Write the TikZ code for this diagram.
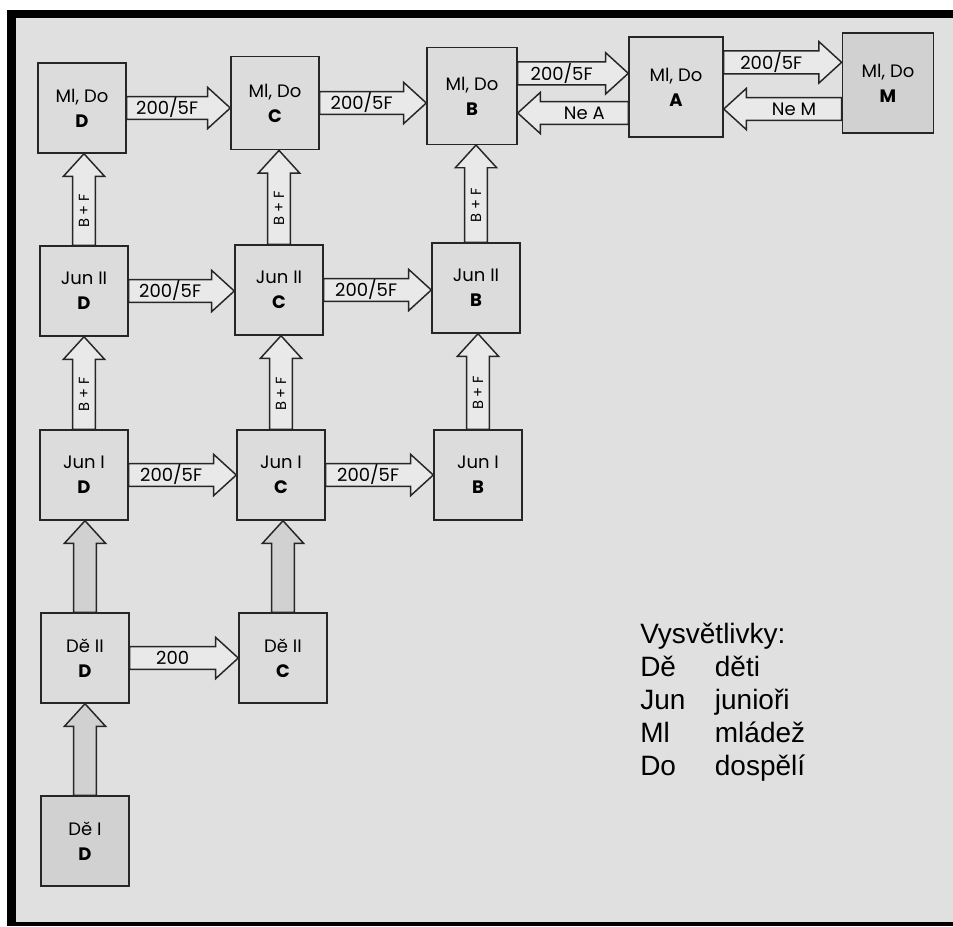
\documentclass[tikz,border=0pt]{standalone}
\usepackage{fontspec}
\setmainfont{Liberation Sans}
\newfontfamily\katfont{Poppins}
\usepackage{tikz}
\usetikzlibrary{arrows.meta,positioning,calc}
\definecolor{pozadi}{RGB}{224,224,224}
\definecolor{vypln}{RGB}{220,220,220}
\definecolor{tmava}{RGB}{209,209,209}
\definecolor{cara}{RGB}{38,38,38}

\begin{document}
\begin{tikzpicture}[x=0.75pt,y=-0.75pt,
  kat/.style={draw=cara,line width=1.1pt,fill=vypln,minimum width=66pt,
    minimum height=67.5pt,inner sep=0pt,align=center,
    font=\katfont\fontsize{13.5}{18.75}\selectfont},
  sipka/.style={draw=cara,line width=1.1pt,fill=pozadi!70!white,line join=miter},
  stin/.style={fill=tmava},
  popis/.style={inner sep=0pt,font=\katfont\fontsize{13.5}{15}\selectfont},
  bf/.style={inner sep=0pt,rotate=90,font=\katfont\fontsize{11}{12}\selectfont}]
  % rozmery sipek
  \def\sw{8.6pt}
  \def\hw{15.5pt}
  \def\hl{17pt}
  \def\vpravo#1#2#3{\draw[sipka] let \p1=(#1), \p2=(#2) in
    (\x1,\y1+\sw) -- (\x2-\hl,\y1+\sw) -- (\x2-\hl,\y1+\hw) -- (\x2,\y1)
    -- (\x2-\hl,\y1-\hw) -- (\x2-\hl,\y1-\sw) -- (\x1,\y1-\sw) -- cycle
    ({(\x1+\x2-\hl)/2},\y1) node[popis] {#3};}
  \def\vlevo#1#2#3{\draw[sipka] let \p1=(#1), \p2=(#2) in
    (\x1,\y1+\sw) -- (\x2+\hl,\y1+\sw) -- (\x2+\hl,\y1+\hw) -- (\x2,\y1)
    -- (\x2+\hl,\y1-\hw) -- (\x2+\hl,\y1-\sw) -- (\x1,\y1-\sw) -- cycle
    ({(\x1+\x2+\hl)/2},\y1) node[popis] {#3};}
  \def\nahoru#1#2#3#4{\draw[sipka,#3] let \p1=(#1), \p2=(#2) in
    (\x1-\sw,\y1) -- (\x1-\sw,\y2-\hl) -- (\x1-\hw,\y2-\hl) -- (\x1,\y2)
    -- (\x1+\hw,\y2-\hl) -- (\x1+\sw,\y2-\hl) -- (\x1+\sw,\y1) -- cycle
    (\x1,{(\y1+\y2-\hl)/2}) node[bf] {#4};}
  % ramecek
  \useasboundingbox (0,0) rectangle (953,926);
  \fill[white] (0,0) rectangle (953,926);
  \fill[black] (7,10) rectangle (953,926);
  \fill[pozadi] (16,18) rectangle (953,922);
  % Ml, Do
  \node[kat] (mlD) at (82,108) {Ml, Do\\\textbf{D}};
  \node[kat,minimum height=70pt] (mlC) at (275,103) {Ml, Do\\\textbf{C}};
  \node[kat,minimum width=67.5pt,minimum height=72.5pt] (mlB) at (472,96) {Ml, Do\\\textbf{B}};
  \node[kat,minimum width=70.5pt,minimum height=75pt] (mlA) at (676,87) {Ml, Do\\\textbf{A}};
  \node[kat,stin,minimum width=68.5pt,minimum height=75pt] (mlM) at (888,83) {Ml, Do\\\textbf{M}};
  % Jun II
  \node[kat] (j2D) at (84,291) {Jun II\\\textbf{D}};
  \node[kat] (j2C) at (279,290) {Jun II\\\textbf{C}};
  \node[kat] (j2B) at (476,288) {Jun II\\\textbf{B}};
  % Jun I
  \node[kat] (j1D) at (84,475) {Jun I\\\textbf{D}};
  \node[kat] (j1C) at (281,475) {Jun I\\\textbf{C}};
  \node[kat] (j1B) at (478,475) {Jun I\\\textbf{B}};
  % Dě II, Dě I
  \node[kat] (d2D) at (85,658) {Dě II\\\textbf{D}};
  \node[kat] (d2C) at (283,658) {Dě II\\\textbf{C}};
  \node[kat,stin] (d1D) at (85,841) {Dě I\\\textbf{D}};
  % prestupy vodorovne
  \vpravo{mlD.east}{mlC.west}{200/5F}
  \vpravo{mlC.east}{mlB.west}{200/5F}
  \vpravo{[yshift=17pt]mlB.east}{mlA.west}{200/5F}
  \vlevo{[yshift=-19.5pt]mlA.west}{mlB.east}{Ne A}
  \vpravo{[yshift=18.5pt]mlA.east}{mlM.west}{200/5F}
  \vlevo{[yshift=-19.5pt]mlM.west}{mlA.east}{Ne M}
  \vpravo{j2D.east}{j2C.west}{200/5F}
  \vpravo{j2C.east}{j2B.west}{200/5F}
  \vpravo{j1D.east}{j1C.west}{200/5F}
  \vpravo{j1C.east}{j1B.west}{200/5F}
  \vpravo{d2D.east}{d2C.west}{200}
  % prestupy svisle
  \nahoru{j2D.north}{mlD.south}{}{B + F}
  \nahoru{j2C.north}{mlC.south}{}{B + F}
  \nahoru{j2B.north}{mlB.south}{}{B + F}
  \nahoru{j1D.north}{j2D.south}{}{B + F}
  \nahoru{j1C.north}{j2C.south}{}{B + F}
  \nahoru{j1B.north}{j2B.south}{}{B + F}
  \nahoru{d2D.north}{j1D.south}{stin}{}
  \nahoru{d2C.north}{j1C.south}{stin}{}
  \nahoru{d1D.north}{d2D.south}{stin}{}
  % vysvetlivky
  \node[anchor=base west,inner sep=0pt,font=\fontsize{21}{24.75}\selectfont] (legenda) at (640,643)
    {\begin{tabular}[t]{@{}p{56pt}@{}l@{}}
      \multicolumn{2}{@{}l@{}}{Vysvětlivky:}\\
      Dě & děti\\
      Jun & junioři\\
      Ml & mládež\\
      Do & dospělí
    \end{tabular}};
\end{tikzpicture}
\end{document}
